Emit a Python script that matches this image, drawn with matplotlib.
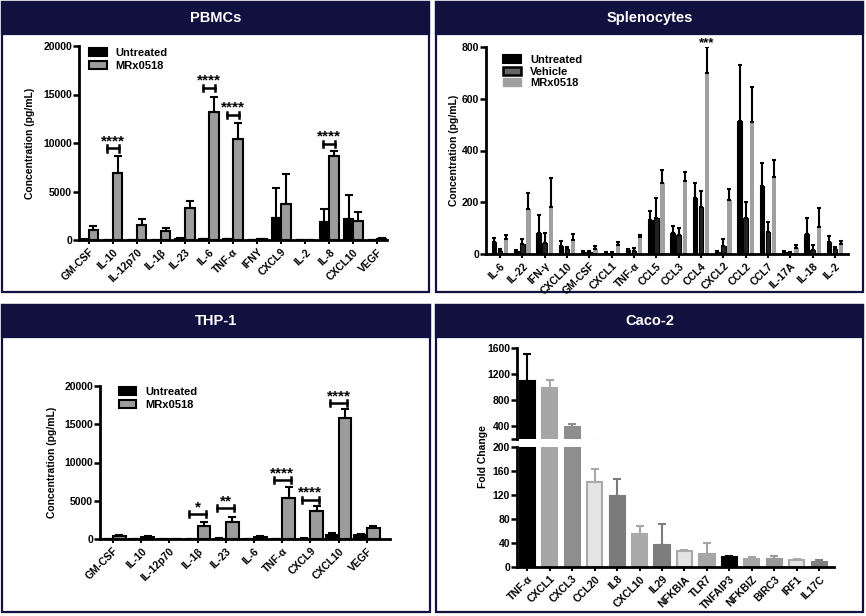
import numpy as np
import matplotlib
matplotlib.use("Agg")
import matplotlib.pyplot as plt
from matplotlib.patches import Rectangle, Patch

plt.rcParams['font.family'] = ['Liberation Sans', 'DejaVu Sans']
plt.rcParams['font.weight'] = 'bold'

# ---------------- data ----------------
pbmc_cats = ['GM-CSF', 'IL-10', 'IL-12p70', 'IL-1β', 'IL-23', 'IL-6', 'TNF-α', 'IFNY',
             'CXCL9', 'IL-2', 'IL-8', 'CXCL10', 'VEGF']
pbmc_untreated = [50, 30, 0, 0, 150, 60, 60, 0, 2230, 0, 1820, 2200, 0]
pbmc_untreated_err = [20, 10, 0, 0, 60, 20, 20, 0, 3170, 0, 1340, 2440, 0]
pbmc_mrx = [1050, 6880, 1560, 900, 3270, 13230, 10410, 60, 3700, 0, 8690, 1960, 150]
pbmc_mrx_err = [390, 1780, 570, 340, 750, 1550, 1620, 20, 3070, 0, 480, 960, 80]
pbmc_sig = [('IL-10', '****', 9450), ('IL-6', '****', 15700),
            ('TNF-α', '****', 12900), ('IL-8', '****', 9900)]

spl_cats = ['IL-6', 'IL-22', 'IFN-γ', 'CXCL10', 'GM-CSF', 'CXCL1', 'TNF-α', 'CCL5', 'CCL3',
            'CCL4', 'CXCL2', 'CCL2', 'CCL7', 'IL-17A', 'IL-18', 'IL-2']
spl_untreated = [45, 10, 81, 30, 8, 3, 15, 133, 81, 218, 6, 515, 263, 8, 76, 46]
spl_untreated_err = [17, 5, 71, 19, 4, 3, 4, 32, 26, 55, 5, 215, 90, 4, 64, 22]
spl_vehicle = [12, 39, 43, 19, 8, 4, 13, 139, 72, 182, 32, 140, 85, 4, 17, 19]
spl_vehicle_err = [8, 20, 38, 8, 5, 4, 10, 77, 28, 62, 26, 62, 37, 4, 18, 7]
spl_mrx = [58, 174, 182, 53, 19, 34, 64, 274, 283, 700, 210, 510, 298, 23, 104, 40]
spl_mrx_err = [14, 62, 112, 26, 11, 12, 9, 49, 33, 100, 41, 135, 64, 10, 72, 9]

thp_cats = ['GM-CSF', 'IL-10', 'IL-12p70', 'IL-1β', 'IL-23', 'IL-6', 'TNF-α', 'CXCL9',
            'CXCL10', 'VEGF']
thp_untreated = [40, 0, 0, 0, 60, 0, 0, 50, 500, 550]
thp_untreated_err = [20, 0, 0, 0, 20, 0, 0, 20, 250, 100]
thp_mrx = [350, 250, 0, 1750, 2250, 300, 5350, 3600, 15800, 1450]
thp_mrx_err = [200, 120, 0, 450, 600, 120, 1400, 650, 1150, 250]
thp_sig = [('IL-1β', '*', 3250), ('IL-23', '**', 4050), ('TNF-α', '****', 7750),
           ('CXCL9', '****', 5150), ('CXCL10', '****', 17800)]

caco_cats = ['TNF-α', 'CXCL1', 'CXCL3', 'CCL20', 'IL8', 'CXCL10', 'IL29', 'NFKBIA', 'TLR7',
             'TNFAIP3', 'NFKBIZ', 'BIRC3', 'IRF1', 'IL17C']
caco_fold = [1085, 990, 385, 142, 118, 55, 36, 27, 22, 17, 14, 13, 12, 9]
caco_err = [425, 120, 48, 21, 28, 13, 35, 2, 18, 1, 2, 5, 1, 2]

# ---------------- styles ----------------
navy = '#11113f'
grey = '#9c9c9c'
caco_face = ['#000000', '#a6a6a6', '#8e8e8e', '#e4e4e4', '#7b7b7b', '#a9a9a9', '#7d7d7d',
             '#e4e4e4', '#a6a6a6', '#000000', '#a6a6a6', '#999999', '#e4e4e4', '#808080']
caco_edge = ['#000000', '#a6a6a6', '#8e8e8e', '#a9a9a9', '#7b7b7b', '#a9a9a9', '#7d7d7d',
             '#a9a9a9', '#a6a6a6', '#000000', '#a6a6a6', '#999999', '#a9a9a9', '#808080']
tick_fs = 7.5

W, H = 866, 616
fig = plt.figure(figsize=(W / 100, H / 100), dpi=100)


def px_rect(l, t, r, b):
    return [l / W, 1 - b / H, (r - l) / W, (b - t) / H]


def panel(l, t, r, b, title):
    fig.patches.append(Rectangle((l / W, 1 - b / H), (r - l) / W, (b - t) / H,
                                 transform=fig.transFigure, facecolor='white',
                                 edgecolor=navy, linewidth=1.6, zorder=-2))
    fig.patches.append(Rectangle((l / W, 1 - (t + 32) / H), (r - l) / W, 32 / H,
                                 transform=fig.transFigure, facecolor=navy,
                                 edgecolor=navy, linewidth=1.6, zorder=-1))
    fig.text((l + r) / 2 / W, 1 - (t + 16) / H, title, color='white', fontsize=10.5,
             fontweight='bold', ha='center', va='center')


def add_ax(l, t, r, b):
    a = fig.add_axes(px_rect(l, t, r, b))
    a.patch.set_alpha(0)
    return a


def style_axis(ax, cats, xlim):
    for s in ['top', 'right']:
        ax.spines[s].set_visible(False)
    for s in ['left', 'bottom']:
        ax.spines[s].set_linewidth(2)
    ax.set_xlim(*xlim)
    ax.set_xticks(np.arange(len(cats)))
    ax.set_xticklabels(cats, rotation=45, ha='right', rotation_mode='anchor',
                       fontsize=tick_fs, fontweight='bold')
    ax.tick_params(axis='y', direction='out', length=4, width=1.8, labelsize=tick_fs, pad=1)
    ax.tick_params(axis='x', direction='out', length=3, width=1.5, pad=2)
    for lab in ax.get_yticklabels():
        lab.set_fontweight('bold')


def bracket(ax, x1, x2, y, h, text, fs=11):
    ax.plot([x1, x1], [y - h, y + h], color='black', lw=1.8, clip_on=False)
    ax.plot([x2, x2], [y - h, y + h], color='black', lw=1.8, clip_on=False)
    ax.plot([x1, x2], [y, y], color='black', lw=1.8, clip_on=False)
    ax.text((x1 + x2) / 2, y + 2.2 * h, text, ha='center', va='center', fontsize=fs,
            fontweight='bold')


zeros = lambda n: np.zeros(n)

# ---------------- panels ----------------
panel(2, 2, 429, 292, 'PBMCs')
panel(436, 2, 863, 292, 'Splenocytes')
panel(2, 305, 430, 612, 'THP-1')
panel(436, 305, 863, 612, 'Caco-2')

# PBMCs
ax = add_ax(79, 46, 387, 240)
x = np.arange(len(pbmc_cats))
bw = 0.4
ax.bar(x - bw / 2, pbmc_untreated, bw, color='black', edgecolor='black', lw=1.5)
ax.bar(x + bw / 2, pbmc_mrx, bw, color=grey, edgecolor='black', lw=1.5)
ax.errorbar(x - bw / 2, pbmc_untreated, yerr=[zeros(len(x)), pbmc_untreated_err], fmt='none',
            ecolor='black', elinewidth=1.5, capsize=3, capthick=1.5)
ax.errorbar(x + bw / 2, pbmc_mrx, yerr=[zeros(len(x)), pbmc_mrx_err], fmt='none',
            ecolor='black', elinewidth=1.5, capsize=3, capthick=1.5)
ax.set_ylim(0, 20000)
ax.set_yticks([0, 5000, 10000, 15000, 20000])
style_axis(ax, pbmc_cats, (-0.4, 12.4))
ax.set_ylabel('Concentration (pg/mL)', fontsize=tick_fs, fontweight='bold')
ax.yaxis.set_label_coords(-44 / 308, 0.5)
for cat, txt, y in pbmc_sig:
    i = pbmc_cats.index(cat)
    bracket(ax, i - 0.25, i + 0.25, y, 330, txt)
ax.legend(handles=[Patch(facecolor='black', edgecolor='black', lw=1.5),
                   Patch(facecolor=grey, edgecolor='black', lw=1.5)],
          labels=['Untreated', 'MRx0518'], loc='upper left', bbox_to_anchor=(0.0, 1.04),
          frameon=False, fontsize=8, handlelength=1.6, handleheight=0.7,
          labelspacing=0.25, handletextpad=0.8)

# Splenocytes
ax = add_ax(486, 47, 848, 254)
x = np.arange(len(spl_cats))
off = 0.27
sw = 0.2
ax.bar(x - off, spl_untreated, sw, color='black', edgecolor='black', lw=0.8)
ax.bar(x, spl_vehicle, sw, color='#222222', edgecolor='black', lw=0.8)
ax.bar(x + off, spl_mrx, sw, color='#a0a0a0', lw=0)
for dx, v, e in [(-off, spl_untreated, spl_untreated_err), (0, spl_vehicle, spl_vehicle_err),
                 (off, spl_mrx, spl_mrx_err)]:
    ax.errorbar(x + dx, v, yerr=[zeros(len(x)), e], fmt='none', ecolor='black',
                elinewidth=1.5, capsize=1.5, capthick=1.5)
ax.set_ylim(0, 800)
ax.set_yticks([0, 200, 400, 600, 800])
style_axis(ax, spl_cats, (-0.63, 15.58))
ax.set_ylabel('Concentration (pg/mL)', fontsize=tick_fs, fontweight='bold')
ax.yaxis.set_label_coords(-27 / 362, 0.5)
ci = spl_cats.index('CCL4')
ax.text(ci + off, 815, '***', ha='center', va='center', fontsize=9.5, fontweight='bold',
        clip_on=False)
ax.legend(handles=[Patch(facecolor='black', edgecolor='black', lw=1.5),
                   Patch(facecolor='#666666', edgecolor='black', lw=1.8),
                   Patch(facecolor='#a0a0a0', edgecolor='#a0a0a0')],
          labels=['Untreated', 'Vehicle', 'MRx0518'], loc='upper left',
          bbox_to_anchor=(0.02, 1.01), frameon=False, fontsize=8, handlelength=1.6,
          handleheight=0.7, labelspacing=0.15, handletextpad=0.8)

# THP-1
ax = add_ax(100, 386, 390, 539)
x = np.arange(len(thp_cats))
tw = 0.45
ax.bar(x - tw / 2, thp_untreated, tw, color='black', edgecolor='black', lw=1.5)
ax.bar(x + tw / 2, thp_mrx, tw, color=grey, edgecolor='black', lw=1.5)
ax.errorbar(x - tw / 2, thp_untreated, yerr=[zeros(len(x)), thp_untreated_err], fmt='none',
            ecolor='black', elinewidth=1.5, capsize=3, capthick=1.5)
ax.errorbar(x + tw / 2, thp_mrx, yerr=[zeros(len(x)), thp_mrx_err], fmt='none',
            ecolor='black', elinewidth=1.5, capsize=3, capthick=1.5)
ax.set_ylim(0, 20000)
ax.set_yticks([0, 5000, 10000, 15000, 20000])
style_axis(ax, thp_cats, (-0.46, 9.82))
ax.set_ylabel('Concentration (pg/mL)', fontsize=tick_fs, fontweight='bold')
ax.yaxis.set_label_coords(-43 / 290, 0.5)
for cat, txt, y in thp_sig:
    i = thp_cats.index(cat)
    bracket(ax, i - 0.3, i + 0.3, y, 400, txt)
ax.legend(handles=[Patch(facecolor='black', edgecolor='black', lw=1.5),
                   Patch(facecolor=grey, edgecolor='black', lw=1.5)],
          labels=['Untreated', 'MRx0518'], loc='upper left', bbox_to_anchor=(0.03, 1.06),
          frameon=False, fontsize=8, handlelength=1.6, handleheight=0.7,
          labelspacing=0.25, handletextpad=0.8)

# Caco-2 (broken axis)
x = np.arange(len(caco_cats))
cw = 0.67
ax_lo = add_ax(517, 447, 834, 567)
ax_hi = add_ax(517, 348, 834, 439)
for a in (ax_lo, ax_hi):
    a.bar(x, caco_fold, cw, color=caco_face, edgecolor=caco_edge, lw=1.5)
    for i in range(len(x)):
        a.errorbar(x[i], caco_fold[i], yerr=[[0], [caco_err[i]]], fmt='none',
                   ecolor=caco_edge[i], elinewidth=1.5, capsize=3, capthick=1.5)
ax_lo.set_ylim(0, 200)
ax_lo.set_yticks([0, 40, 80, 120, 160, 200])
style_axis(ax_lo, caco_cats, (-0.45, 13.65))
ax_hi.set_ylim(200, 1600)
ax_hi.set_yticks([200, 400, 800, 1200, 1600])
ax_hi.set_yticklabels(['', '400', '800', '1200', '1600'])
style_axis(ax_hi, caco_cats, (-0.45, 13.65))
ax_hi.spines['bottom'].set_visible(False)
ax_hi.tick_params(axis='x', bottom=False, labelbottom=False)
fig.text(483 / W, 1 - 457 / H, 'Fold Change', rotation=90, ha='center', va='center',
         fontsize=tick_fs, fontweight='bold')

fig.savefig('out.png', dpi=100)
